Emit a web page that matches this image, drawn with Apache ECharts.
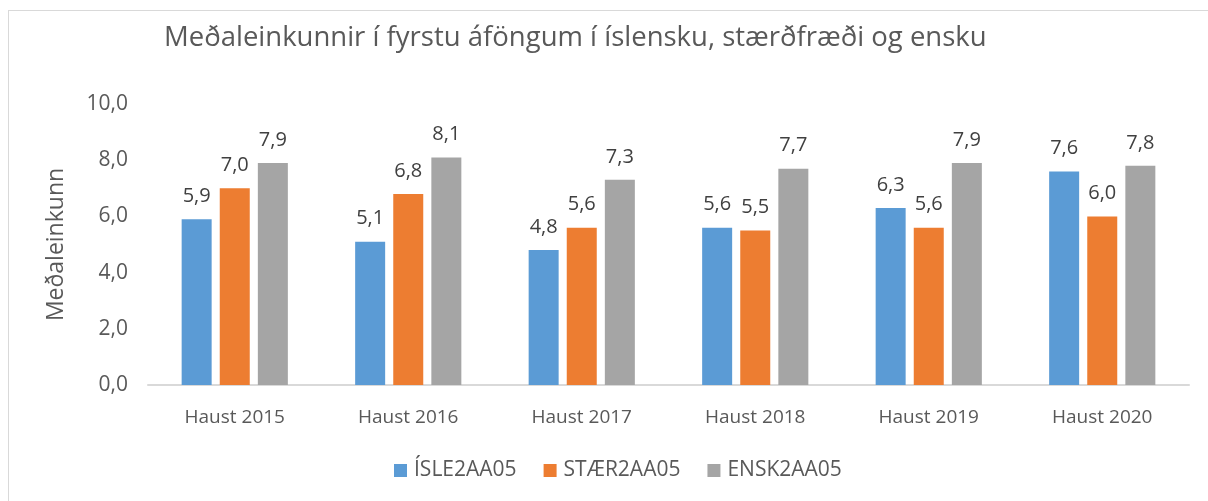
<!DOCTYPE html>
<html>
<head>
<meta charset="utf-8">
<script src="https://cdn.jsdelivr.net/npm/echarts@6/dist/echarts.min.js"></script>
<style>
  html, body { margin: 0; padding: 0; background: #fff; }
  #chart { width: 1208px; height: 501px; }
  .frame { position: absolute; left: 8px; top: 10px; width: 1220px; height: 520px; border: 1px solid #d9d9d9; box-sizing: border-box; pointer-events: none; }
</style>
</head>
<body>
<div id="chart"></div>
<div class="frame"></div>
<script>
const categories = ["Haust 2015", "Haust 2016", "Haust 2017", "Haust 2018", "Haust 2019", "Haust 2020"];
const seriesNames = ["ÍSLE2AA05", "STÆR2AA05", "ENSK2AA05"];
const isle = [5.9, 5.1, 4.8, 5.6, 6.3, 7.6];
const staer = [7.0, 6.8, 5.6, 5.5, 5.6, 6.0];
const ensk = [7.9, 8.1, 7.3, 7.7, 7.9, 7.8];
const colors = ["#5B9BD5", "#ED7D31", "#A5A5A5"];

const font = "'Open Sans', 'Noto Sans', sans-serif";

const chart = echarts.init(document.querySelector("#chart"));

function barSeries(name, data, color) {
  return {
    name,
    type: "bar",
    data,
    barWidth: 30,
    barGap: "27%",
    itemStyle: { color },
    label: {
      show: true,
      position: "top",
      distance: 13,
      color: "#404040",
      fontFamily: font,
      fontSize: 20,
      formatter: (p) => p.value.toFixed(1).replace(".", ","),
    },
  };
}

chart.setOption({
  animation: false,
  title: {
    text: "Meðaleinkunnir í fyrstu áföngum í íslensku, stærðfræði og ensku",
    left: 159,
    top: 19,
    textStyle: { color: "#595959", fontFamily: font, fontSize: 27.5, fontWeight: "normal" },
  },
  legend: {
    data: seriesNames,
    bottom: 15,
    left: 389,
    itemWidth: 13,
    itemHeight: 13,
    itemGap: 27,
    icon: "rect",
    textStyle: { color: "#595959", fontFamily: font, fontSize: 21, padding: [0, 0, 0, 2] },
  },
  grid: { left: 148, right: 19, top: 104, bottom: 116, containLabel: false },
  xAxis: {
    type: "category",
    data: categories,
    axisTick: { show: false },
    axisLine: { lineStyle: { color: "#d9d9d9", width: 2 } },
    axisLabel: { color: "#595959", fontFamily: font, fontSize: 19, margin: 23 },
  },
  yAxis: {
    type: "value",
    min: 0,
    max: 10,
    interval: 2,
    name: "Meðaleinkunn",
    nameLocation: "middle",
    nameGap: 80,
    nameTextStyle: { color: "#595959", fontFamily: font, fontSize: 23 },
    splitLine: { show: false },
    axisLine: { show: false },
    axisTick: { show: false },
    axisLabel: {
      color: "#595959",
      fontFamily: font,
      fontSize: 21,
      margin: 20,
      formatter: (v) => v.toFixed(1).replace(".", ","),
    },
  },
  series: [
    barSeries(seriesNames[0], isle, colors[0]),
    barSeries(seriesNames[1], staer, colors[1]),
    barSeries(seriesNames[2], ensk, colors[2]),
  ],
});
</script>
</body>
</html>
